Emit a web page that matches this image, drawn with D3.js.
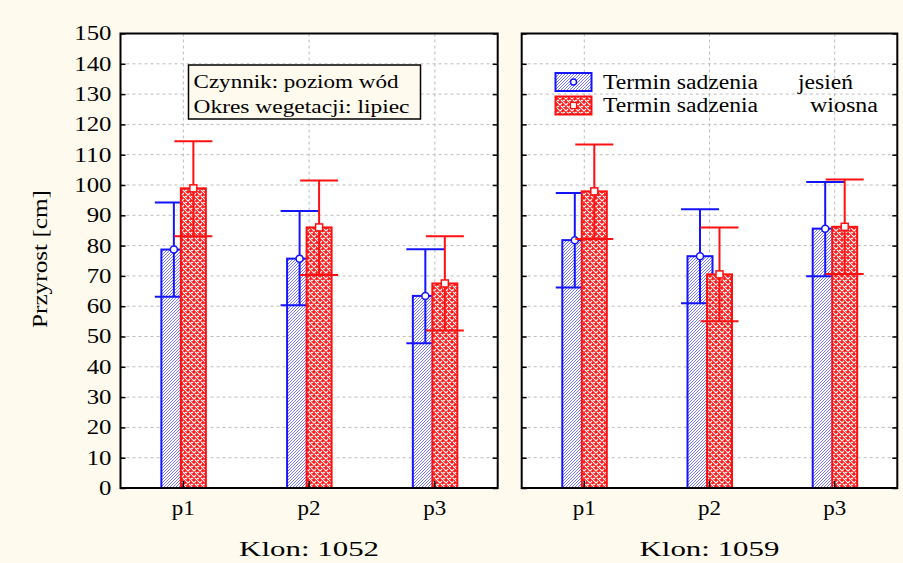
<!DOCTYPE html>
<html>
<head>
<meta charset="utf-8">
<script src="https://cdn.jsdelivr.net/npm/d3@7"></script>
<style>
  body { margin: 0; background: #fffaee; }
  svg { display: block; font-family: "Liberation Serif", "Times New Roman", serif; }
</style>
</head>
<body>
<div id="chart"></div>
<script>
// data
const categories = ["p1", "p2", "p3"];
const panelNames = ["Klon: 1052", "Klon: 1059"];
const seriesNames = ["jesień", "wiosna"];
const yTicks = d3.range(0, 151, 10);

// Klon 1052
const jesienMean1052 = [78.7, 75.7, 63.4];
const jesienLow1052  = [63.1, 60.3, 47.8];
const jesienHigh1052 = [94.2, 91.4, 78.8];
const wiosnaMean1052 = [98.9, 86.0, 67.5];
const wiosnaLow1052  = [83.1, 70.3, 52.0];
const wiosnaHigh1052 = [114.4, 101.5, 83.1];

// Klon 1059
const jesienMean1059 = [81.8, 76.5, 85.6];
const jesienLow1059  = [66.2, 61.0, 69.9];
const jesienHigh1059 = [97.4, 92.0, 101.0];
const wiosnaMean1059 = [97.9, 70.5, 86.2];
const wiosnaLow1059  = [82.2, 55.0, 70.6];
const wiosnaHigh1059 = [113.4, 86.0, 101.8];

const panels = [
  { name: panelNames[0], series: [
      { mean: jesienMean1052, low: jesienLow1052, high: jesienHigh1052 },
      { mean: wiosnaMean1052, low: wiosnaLow1052, high: wiosnaHigh1052 } ] },
  { name: panelNames[1], series: [
      { mean: jesienMean1059, low: jesienLow1059, high: jesienHigh1059 },
      { mean: wiosnaMean1059, low: wiosnaLow1059, high: wiosnaHigh1059 } ] }
];

const W = 903, H = 563;
const BLUE = "#1414ff", RED = "#ff1010";
const plotRanges = [[120.5, 497.7], [521.7, 897.3]];
const plotTop = 33.5, plotBottom = 488;

const svg = d3.select("#chart").append("svg").attr("width", W).attr("height", H);
svg.append("rect").attr("width", W).attr("height", H).attr("fill", "#fffaee");

// fill patterns
const defs = svg.append("defs");
const pb = defs.append("pattern").attr("id", "hatchBlue").attr("patternUnits", "userSpaceOnUse").attr("width", 3).attr("height", 3);
pb.append("rect").attr("width", 3).attr("height", 3).attr("fill", "#fff");
pb.append("path").attr("d", "M-1,1 L1,-1 M0,3 L3,0 M2,4 L4,2").attr("stroke", "#6a6aff").attr("stroke-width", 0.9);

const pr = defs.append("pattern").attr("id", "hatchRed").attr("patternUnits", "userSpaceOnUse").attr("width", 6).attr("height", 6);
pr.append("rect").attr("width", 6).attr("height", 6).attr("fill", "#ff1a1a");
pr.append("path").attr("d", "M0,1 L2,3 L4,1 M3,4 L5,6 M6,4 L5,5 M0,4 L1,5 M5,0 L6,1")
  .attr("stroke", "#fff").attr("stroke-width", 1.1).attr("fill", "none");

const y = d3.scaleLinear().domain([0, 150]).range([plotBottom, plotTop]);

function stretched(sel, str, x, yy, size, len, anchor) {
  return sel.append("text").attr("x", x).attr("y", yy).attr("font-size", size)
    .attr("text-anchor", anchor || "middle").attr("fill", "#000")
    .attr("textLength", len).attr("lengthAdjust", "spacingAndGlyphs").text(str);
}

const offsets = [-9.5, 10];
const barW = 25, capW = 38;
const fills = ["url(#hatchBlue)", "url(#hatchRed)"];
const colors = [BLUE, RED];

panels.forEach((panel, pi) => {
  const [x0, x1] = plotRanges[pi];
  const x = d3.scaleBand().domain(categories).range([x0, x1]);
  const cx = c => x(c) + x.bandwidth() / 2;
  const g = svg.append("g");

  g.append("rect").attr("x", x0).attr("y", plotTop).attr("width", x1 - x0).attr("height", plotBottom - plotTop).attr("fill", "#fff");

  // grid
  g.selectAll(".hgrid").data(yTicks.filter(v => v > 0 && v < 150)).join("line")
    .attr("x1", x0).attr("x2", x1).attr("y1", d => y(d)).attr("y2", d => y(d))
    .attr("stroke", "#bdbdbd").attr("stroke-dasharray", "3,3").attr("stroke-width", 1);
  g.selectAll(".vgrid").data(categories).join("line")
    .attr("x1", d => cx(d)).attr("x2", d => cx(d)).attr("y1", plotTop).attr("y2", plotBottom)
    .attr("stroke", "#bdbdbd").attr("stroke-dasharray", "3,3").attr("stroke-width", 1);

  // bars + error bars, series by series
  panel.series.forEach((s, si) => {
    const off = offsets[si], col = colors[si];
    const sg = g.append("g");
    sg.selectAll("rect.bar").data(categories).join("rect").attr("class", "bar")
      .attr("x", (c) => cx(c) + off - barW / 2).attr("width", barW)
      .attr("y", (c, i) => y(s.mean[i])).attr("height", (c, i) => y(0) - y(s.mean[i]))
      .attr("fill", fills[si]).attr("stroke", col).attr("stroke-width", 2);
    sg.selectAll("line.whisker").data(categories).join("line").attr("class", "whisker")
      .attr("x1", c => cx(c) + off).attr("x2", c => cx(c) + off)
      .attr("y1", (c, i) => y(s.low[i])).attr("y2", (c, i) => y(s.high[i]))
      .attr("stroke", col).attr("stroke-width", 2);
    ["low", "high"].forEach(k => {
      sg.selectAll("line.cap" + k).data(categories).join("line").attr("class", "cap" + k)
        .attr("x1", c => cx(c) + off - capW / 2).attr("x2", c => cx(c) + off + capW / 2)
        .attr("y1", (c, i) => y(s[k][i])).attr("y2", (c, i) => y(s[k][i]))
        .attr("stroke", col).attr("stroke-width", 2);
    });
    if (si === 0) {
      sg.selectAll("circle").data(categories).join("circle")
        .attr("cx", c => cx(c) + off).attr("cy", (c, i) => y(s.mean[i])).attr("r", 3.5)
        .attr("fill", "#fff").attr("stroke", col).attr("stroke-width", 1.5);
    } else {
      sg.selectAll("rect.pt").data(categories).join("rect").attr("class", "pt")
        .attr("x", c => cx(c) + off - 3.5).attr("y", (c, i) => y(s.mean[i]) - 3.5)
        .attr("width", 7).attr("height", 7)
        .attr("fill", "#fff").attr("stroke", col).attr("stroke-width", 1.5);
    }
  });

  // frame
  g.append("rect").attr("x", x0).attr("y", plotTop).attr("width", x1 - x0).attr("height", plotBottom - plotTop)
    .attr("fill", "none").attr("stroke", "#000").attr("stroke-width", 2);

  // y axes (ticks inward on both sides)
  const leftAxis = d3.axisLeft(y).tickValues(yTicks).tickSize(-5).tickSizeOuter(0).tickPadding(9);
  if (pi === 1) leftAxis.tickFormat("");
  const la = g.append("g").attr("transform", `translate(${x0},0)`).call(leftAxis);
  la.select(".domain").remove();
  la.selectAll(".tick line").attr("stroke", "#000").attr("stroke-width", 1.5);
  la.selectAll(".tick text").attr("font-size", 20).attr("font-family", "Liberation Serif").attr("fill", "#000")
    .attr("textLength", d => pi === 0 ? String(d).length * 12.4 : null)
    .attr("lengthAdjust", "spacingAndGlyphs");

  const ra = g.append("g").attr("transform", `translate(${x1},0)`)
    .call(d3.axisRight(y).tickValues(yTicks).tickSize(-5).tickSizeOuter(0).tickFormat(""));
  ra.select(".domain").remove();
  ra.selectAll(".tick line").attr("stroke", "#000").attr("stroke-width", 1.5);

  // x axis
  const xa = g.append("g").attr("transform", `translate(0,${plotBottom})`)
    .call(d3.axisBottom(x).tickSize(-7).tickSizeOuter(0).tickPadding(12));
  xa.select(".domain").remove();
  xa.selectAll(".tick line").attr("stroke", "#000").attr("stroke-width", 1.5);
  xa.selectAll(".tick text").attr("font-size", 21).attr("font-family", "Liberation Serif").attr("fill", "#000")
    .attr("textLength", 23).attr("lengthAdjust", "spacingAndGlyphs");

  stretched(svg, panel.name, (x0 + x1) / 2, 556, 22, 140);
});

// y label
stretched(svg.append("g").attr("transform", "translate(47,259) rotate(-90)"), "Przyrost [cm]", 0, 0, 21, 138);

// annotation box, left panel
svg.append("rect").attr("x", 188.5).attr("y", 65).attr("width", 232).attr("height", 54)
  .attr("fill", "#fffaee").attr("stroke", "#000").attr("stroke-width", 1.5);
stretched(svg, "Czynnik: poziom wód", 193.5, 88.3, 19, 205, "start");
stretched(svg, "Okres wegetacji: lipiec", 193.5, 112.7, 19, 216, "start");

// legend, right panel
const legend = svg.append("g");
const legendRows = [
  { y0: 73, label: "jesień", lx: 798, len: 55 },
  { y0: 96.5, label: "wiosna", lx: 810, len: 68 }
];
legendRows.forEach((r, i) => {
  legend.append("rect").attr("x", 555.5).attr("y", r.y0).attr("width", 36).attr("height", 18)
    .attr("fill", fills[i]).attr("stroke", colors[i]).attr("stroke-width", 2);
  if (i === 0) {
    legend.append("circle").attr("cx", 573.5).attr("cy", r.y0 + 9).attr("r", 3)
      .attr("fill", "#fff").attr("stroke", colors[i]).attr("stroke-width", 1.5);
  } else {
    legend.append("rect").attr("x", 570.5).attr("y", r.y0 + 6).attr("width", 6).attr("height", 6)
      .attr("fill", "#fff").attr("stroke", colors[i]).attr("stroke-width", 1.2);
  }
  stretched(legend, "Termin sadzenia", 603, r.y0 + 15.5, 20, 155, "start");
  stretched(legend, seriesNames[i], r.lx, r.y0 + 15.5, 20, r.len, "start");
});
</script>
</body>
</html>
